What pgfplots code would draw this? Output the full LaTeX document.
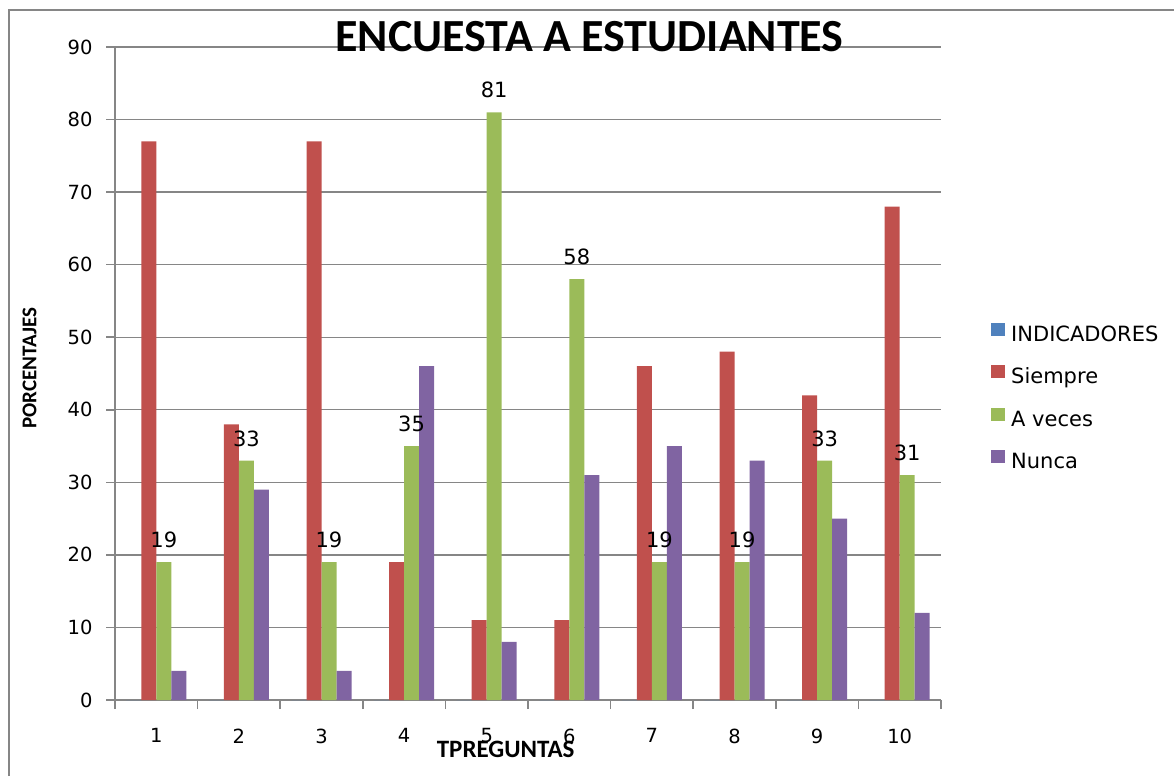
\documentclass[border=0pt]{standalone}
\usepackage{pgfplots}
\pgfplotsset{compat=1.18}
\usepackage{fontspec}
\setmainfont{DejaVu Sans}
\newfontfamily\carlito{Carlito}
\definecolor{cBlue}{HTML}{4F81BD}
\definecolor{cRed}{HTML}{C0504D}
\definecolor{cGreen}{HTML}{9BBB59}
\definecolor{cPurple}{HTML}{8064A2}
\definecolor{cAxis}{HTML}{868686}
\begin{document}
\begin{tikzpicture}[x=1pt,y=1pt]
\useasboundingbox (0,0) rectangle (1174,776);
\draw[cAxis, line width=2pt] (9,0) -- (9,766) -- (1174,766);
\begin{axis}[
  at={(115pt,76pt)}, anchor=south west,
  scale only axis, width=826pt, height=653pt,
  ymin=0, ymax=90, xmin=0.5, xmax=10.5,
  ytick={0,10,...,90},
  xtick={0.5,1.5,...,10.5},
  x tick label as interval,
  xticklabels={1,2,3,4,5,6,7,8,9,10},
  /pgf/number format/assume math mode=true,
  ybar=0pt, bar width=15pt,
  axis x line*=bottom, axis y line*=left,
  axis line style={cAxis, line width=1.8pt, -},
  ymajorgrids, grid style={cAxis, line width=1.3pt},
  tick align=outside, major tick length=9pt,
  tick style={cAxis, line width=1.5pt},
  yticklabel style={font=\fontsize{19.5}{22}\selectfont, xshift=-10pt},
  xticklabel style={font=\fontsize{19.5}{22}\selectfont, yshift=-16pt},
  title={ENCUESTA A ESTUDIANTES},
  title style={at={(axis description cs:0.5745,1.0061)}, anchor=center, inner sep=0pt,
    font=\carlito\bfseries\fontsize{46}{50}\selectfont},
  ylabel={PORCENTAJES},
  ylabel style={at={(axis description cs:-0.1035,0.5084)}, anchor=center, inner sep=0pt,
    font=\carlito\bfseries\fontsize{21}{24}\selectfont},
  xlabel={TPREGUNTAS},
  xlabel style={at={(axis description cs:0.473,-0.075)}, anchor=center, inner sep=0pt,
    font=\carlito\bfseries\fontsize{25}{28}\selectfont},
  legend style={at={(axis description cs:1.0605,0.578)}, anchor=north west,
    draw=none, fill=none, inner sep=0pt, row sep=20pt,
    font=\fontsize{21}{24}\selectfont,
    nodes={inner sep=0pt, text height=15pt, text depth=4pt},
    /tikz/every odd column/.append style={column sep=6pt}},
  legend cell align=left,
  legend image code/.code={\fill[#1] (0pt,0pt) rectangle (14pt,13pt);},
]
\addplot[fill=cBlue, draw=none] coordinates {(1,0) (2,0) (3,0) (4,0) (5,0) (6,0) (7,0) (8,0) (9,0) (10,0)};
\addplot[fill=cRed, draw=none] coordinates {(1,77) (2,38) (3,77) (4,19) (5,11) (6,11) (7,46) (8,48) (9,42) (10,68)};
\addplot[fill=cGreen, draw=none, nodes near coords,
  every node near coord/.append style={inner sep=0pt, yshift=14pt, text=black, font=\fontsize{21}{24}\selectfont}]
  coordinates {(1,19) (2,33) (3,19) (4,35) (5,81) (6,58) (7,19) (8,19) (9,33) (10,31)};
\addplot[fill=cPurple, draw=none] coordinates {(1,4) (2,29) (3,4) (4,46) (5,8) (6,31) (7,35) (8,33) (9,25) (10,12)};
\legend{INDICADORES, Siempre, A veces, Nunca}
\end{axis}
\end{tikzpicture}
\end{document}
